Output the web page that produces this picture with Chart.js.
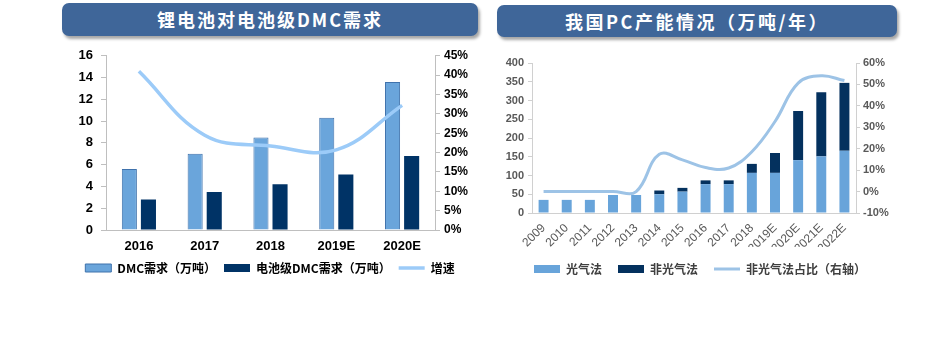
<!DOCTYPE html>
<html>
<head>
<meta charset="utf-8">
<script src="https://cdn.jsdelivr.net/npm/chart.js@4"></script>
<style>
  body { margin: 0; background: #fff; width: 944px; height: 339px; position: relative; overflow: hidden; }
  .banner {
    position: absolute; background: #3F6699; border-radius: 7px;
    box-shadow: 2px 3px 3px rgba(0,0,0,0.35);
    color: #fff; font-family: "Noto Sans CJK SC", sans-serif; font-weight: bold;
    font-size: 18px; text-align: center; letter-spacing: 2.5px;
  }
  .box { position: absolute; }
</style>
</head>
<body>
<div class="banner" style="left:62px;top:3px;width:416px;height:33px;line-height:33px;letter-spacing:2px;">锂电池对电池级DMC需求</div>
<div class="banner" style="left:497px;top:5px;width:400px;height:32px;line-height:32px;">我国PC产能情况（万吨/年）</div>
<div class="box" style="left:55px;top:40px;width:430px;height:244px;"><canvas id="dmcChart"></canvas></div>
<div class="box" style="left:490px;top:40px;width:420px;height:245px;"><canvas id="pcChart"></canvas></div>
<script>
// 左图：锂电池对电池级DMC需求
const dmcYears = ['2016', '2017', '2018', '2019E', '2020E'];
const dmcDemand = [5.6, 7.0, 8.5, 10.3, 13.6];
const batteryDmcDemand = [2.8, 3.5, 4.2, 5.1, 6.8];
const dmcGrowth = [41, 24.5, 21.7, 20.7, 32.2];

// 右图：我国PC产能情况
const pcYears = ['2009', '2010', '2011', '2012', '2013', '2014', '2015', '2016', '2017', '2018', '2019E', '2020E', '2021E', '2022E'];
const phosgene = [35, 35, 35, 48, 48, 50, 57, 77, 77, 107, 107, 141, 151, 166];
const nonPhosgene = [0, 0, 0, 0, 0, 10, 10, 10, 10, 24, 53, 131, 171, 181];
const nonPhosgeneShare = [0, 0, 0, 0, 0, 17.4, 14.8, 11.2, 11, 18.6, 32.7, 50.6, 54, 51.8];

const axisGray = '#BFBFBF';
const byIndex = (a, b) => a.datasetIndex - b.datasetIndex;

new Chart(document.getElementById('dmcChart').getContext('2d'), {
   type: 'bar',
   data: {
      labels: dmcYears,
      datasets: [
         {
            label: 'DMC需求（万吨）', data: dmcDemand, yAxisID: 'y', order: 1,
            backgroundColor: '#6AA5DB', borderColor: '#3F72AC', borderWidth: 1,
            pointStyle: 'rect',
            categoryPercentage: 0.58, barPercentage: 0.79
         },
         {
            label: '电池级DMC需求（万吨）', data: batteryDmcDemand, yAxisID: 'y', order: 1,
            backgroundColor: '#003366', borderWidth: 0,
            pointStyle: 'rect',
            categoryPercentage: 0.58, barPercentage: 0.79
         },
         {
            type: 'line', label: '增速', data: dmcGrowth, yAxisID: 'y1', order: 0,
            borderColor: '#9CCBF8', backgroundColor: '#9CCBF8', borderWidth: 3.5,
            tension: 0.4, pointRadius: 0, pointStyle: 'line'
         }
      ]
   },
   options: {
      responsive: true, maintainAspectRatio: false, animation: false,
      layout: { padding: { top: 13, left: 0, right: 0, bottom: 0 } },
      scales: {
         x: {
            afterFit: s => { s.height = 24; },
            grid: { display: false, drawTicks: false },
            border: { display: true, color: axisGray },
            ticks: { color: '#000', font: { family: 'Arial, "Liberation Sans"', size: 13, weight: 'bold' }, padding: 9 }
         },
         y: {
            position: 'left', min: 0, max: 16,
            afterFit: s => { s.width = 51; },
            grid: { drawOnChartArea: false, drawTicks: true, tickLength: 5, color: axisGray },
            border: { color: axisGray },
            ticks: { stepSize: 2, color: '#000', padding: 8, font: { family: 'Arial, "Liberation Sans"', size: 13, weight: 'bold' } }
         },
         y1: {
            position: 'right', min: 0, max: 45,
            afterFit: s => { s.width = 50; },
            grid: { drawOnChartArea: false, drawTicks: true, tickLength: 5, color: axisGray },
            border: { color: axisGray },
            ticks: { stepSize: 5, color: '#000', padding: 4, callback: v => v + '%',
                     font: { family: 'Arial, "Liberation Sans"', size: 12, weight: 'bold' } }
         }
      },
      plugins: {
         tooltip: { enabled: false },
         legend: {
            position: 'bottom',
            labels: {
               usePointStyle: true, pointStyleWidth: 26, boxHeight: 8, padding: 8,
               color: '#000', sort: byIndex,
               font: { family: '"Noto Sans CJK SC", Arial', size: 12, weight: 'bold' }
            }
         }
      }
   }
});

new Chart(document.getElementById('pcChart').getContext('2d'), {
   type: 'bar',
   data: {
      labels: pcYears,
      datasets: [
         {
            label: '光气法', data: phosgene, yAxisID: 'y', order: 1, stack: 'pc',
            backgroundColor: '#68A4DA', borderWidth: 0, pointStyle: 'rect',
            categoryPercentage: 0.86, barPercentage: 0.5
         },
         {
            label: '非光气法', data: nonPhosgene, yAxisID: 'y', order: 1, stack: 'pc',
            backgroundColor: '#04315E', borderWidth: 0, pointStyle: 'rect',
            categoryPercentage: 0.86, barPercentage: 0.5
         },
         {
            type: 'line', label: '非光气法占比（右轴）', data: nonPhosgeneShare, yAxisID: 'y1', order: 0,
            borderColor: '#9DC3E6', backgroundColor: '#9DC3E6', borderWidth: 3,
            tension: 0.4, pointRadius: 0, pointStyle: 'line'
         }
      ]
   },
   options: {
      responsive: true, maintainAspectRatio: false, animation: false,
      layout: { padding: { top: 23, left: 0, right: 0, bottom: 0 } },
      scales: {
         x: {
            stacked: true,
            afterFit: s => { s.height = 34; },
            grid: { display: false, drawTicks: false },
            border: { display: true, color: '#D0D0D0' },
            ticks: { color: '#595959', autoSkip: false, minRotation: 45, maxRotation: 45, padding: 8,
                     font: { family: 'Arial, "Liberation Sans"', size: 12 } }
         },
         y: {
            stacked: true, position: 'left', min: 0, max: 400,
            afterFit: s => { s.width = 42; },
            grid: { drawOnChartArea: false, drawTicks: true, tickLength: 4, color: '#D0D0D0' },
            border: { color: '#D0D0D0' },
            ticks: { stepSize: 50, color: '#595959', padding: 4,
                     font: { family: 'Arial, "Liberation Sans"', size: 11, weight: 'bold' } }
         },
         y1: {
            position: 'right', min: -10, max: 60,
            afterFit: s => { s.width = 54; },
            grid: { drawOnChartArea: false, drawTicks: true, tickLength: 4, color: '#D0D0D0' },
            border: { color: '#D0D0D0' },
            ticks: { stepSize: 10, color: '#595959', padding: 3, callback: v => v + '%',
                     font: { family: 'Arial, "Liberation Sans"', size: 11, weight: 'bold' } }
         }
      },
      plugins: {
         tooltip: { enabled: false },
         legend: {
            position: 'bottom',
            labels: {
               usePointStyle: true, pointStyleWidth: 26, boxHeight: 8, padding: 16,
               color: '#404040', sort: byIndex,
               font: { family: '"Noto Sans CJK SC", Arial', size: 12, weight: 'bold' }
            }
         }
      }
   }
});
</script>
</body>
</html>
